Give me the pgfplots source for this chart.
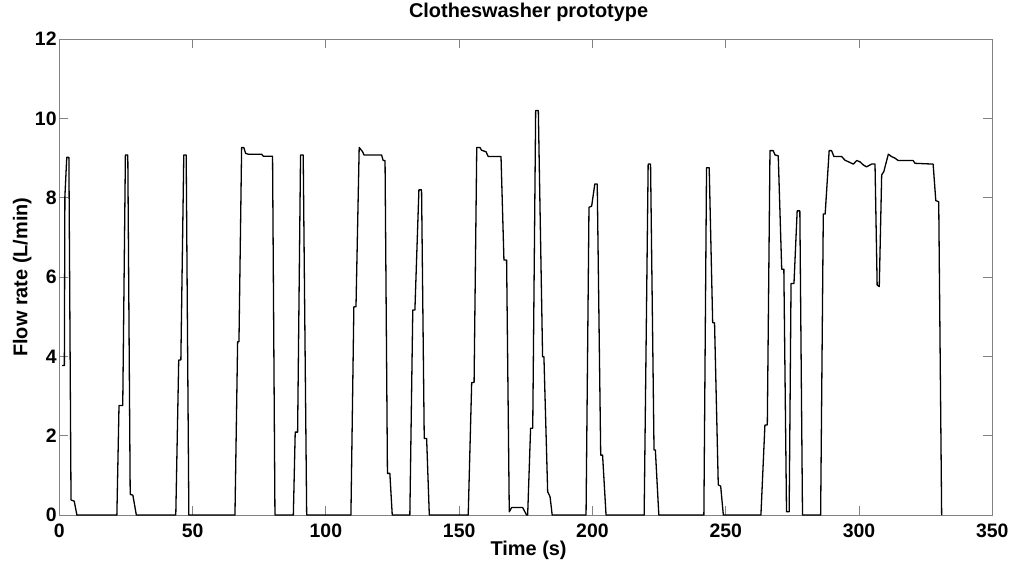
\documentclass[border=0pt]{standalone}
\usepackage{pgfplots}
\pgfplotsset{compat=1.18}
\usepackage{fontspec}
\setmainfont{Liberation Sans}
\definecolor{axgray}{RGB}{130,130,130}
\begin{document}
\begin{tikzpicture}
\begin{axis}[
  scale only axis,
  width=933bp, height=475.8bp,
  xmin=0, xmax=350, ymin=0, ymax=12,
  xtick={0,50,...,350}, ytick={0,2,...,12},
  tick align=inside,
  major tick length=9bp,
  xtick pos=both, ytick pos=both,
  axis line style={axgray, line width=0.8bp},
  tick style={axgray, line width=0.8bp},
  /pgf/number format/assume math mode=true,
  ticklabel style={font=\fontsize{19.5}{22}\selectfont\bfseries, text=black},
  xticklabel style={anchor=base, yshift=-22bp},
  yticklabel style={inner xsep=2.5bp},
  title={Clotheswasher prototype},
  title style={font=\fontsize{20}{22}\selectfont\bfseries, at={(axis description cs:0.503,1)}, anchor=base, yshift=16bp},
  xlabel={Time (s)},
  xlabel style={font=\fontsize{20}{22}\selectfont\bfseries, at={(axis description cs:0.503,0)}, anchor=base, yshift=-40bp},
  ylabel={Flow rate (L/min)},
  ylabel style={font=\fontsize{20}{22}\selectfont\bfseries, at={(axis description cs:-0.0343,0.5)}, anchor=base},
  clip=false,
]
\addplot[black, line width=1.3bp, line join=round] coordinates {
(1.1,3.77)(1.9,3.77)(2.1,8.03)(2.8,9.02)(3.6,9.02)(4.4,0.38)(5.6,0.35)(6.6,0)
(21.6,0)(22.4,2.76)(23.8,2.76)(24.8,9.08)(25.7,9.08)(26.6,0.52)(27.6,0.50)(28.9,0)
(43.7,0)(44.8,3.91)(45.6,3.91)(46.7,9.08)(47.6,9.08)(48.6,0)
(65.9,0)(66.9,4.37)(67.4,4.37)(68.4,9.27)(69.2,9.27)(69.9,9.12)(70.9,9.10)(75.9,9.10)(76.5,9.05)(80.0,9.05)(80.9,0)
(87.8,0)(88.5,2.09)(89.4,2.09)(90.5,9.08)(91.5,9.08)(92.8,0)
(109.4,0)(110.5,5.25)(111.3,5.25)(112.5,9.27)(113.8,9.16)(114.3,9.08)(120.9,9.08)(121.5,8.94)(122.2,8.94)(123.1,1.05)(124.0,1.05)(124.9,0)
(131.5,0)(132.6,5.17)(133.4,5.17)(134.9,8.20)(135.9,8.20)(136.9,1.93)(137.8,1.93)(138.8,0)
(153.4,0)(154.7,3.34)(155.6,3.34)(156.6,9.27)(157.8,9.27)(158.4,9.20)(160.1,9.16)(160.9,9.04)(165.7,9.04)(166.8,6.43)(167.8,6.43)(168.8,0.08)(169.7,0.19)(173.8,0.19)(175.3,0)
(175.7,0)(176.8,2.19)(177.6,2.19)(178.7,10.2)(179.7,10.2)(181.3,3.99)(181.8,3.99)(183.2,0.59)(184.1,0.46)(184.9,0)
(197.6,0)(198.7,7.76)(199.7,7.79)(200.9,8.35)(201.8,8.35)(203.1,1.51)(203.8,1.51)(205.1,0)
(219.4,0)(220.9,8.85)(221.8,8.85)(223.1,1.64)(223.6,1.64)(224.9,0)
(241.8,0)(242.8,8.76)(243.8,8.76)(245.1,4.85)(245.8,4.85)(247.2,0.76)(248.1,0.73)(249.1,0)
(263.2,0)(264.7,2.27)(265.6,2.27)(266.6,9.19)(267.8,9.19)(268.5,9.08)(269.7,9.06)(271.0,6.20)(271.8,6.20)(272.8,0.08)(273.8,0.08)(274.5,5.84)(275.6,5.84)(276.8,7.67)(277.8,7.67)(278.8,0)
(285.6,0)(286.6,7.59)(287.3,7.59)(288.8,9.19)(289.7,9.19)(290.6,9.04)(293.5,9.04)(294.7,8.95)(296.6,8.89)(297.9,8.85)(299.1,8.94)(300.3,8.91)(301.6,8.83)(302.8,8.78)(304.7,8.85)(306.0,8.85)(306.8,5.80)(307.6,5.76)(308.5,8.58)(309.3,8.66)(310.1,8.87)(311.0,9.10)(312.2,9.04)(313.5,9.00)(314.7,8.94)(320.3,8.94)(321.0,8.87)(327.8,8.85)(328.8,7.93)(329.9,7.90)(331.0,0)
};
\coordinate (bbsw) at (rel axis cs:-0.06356,-0.10088);
\coordinate (bbne) at (rel axis cs:1.02004,1.08239);
\end{axis}
\pgfresetboundingbox
\path[use as bounding box] (bbsw) rectangle (bbne);
\end{tikzpicture}
\end{document}
